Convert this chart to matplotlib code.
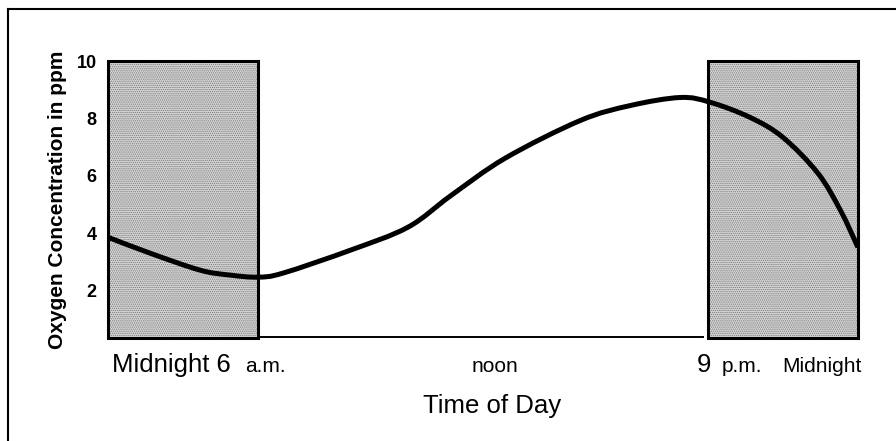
import matplotlib
matplotlib.use("Agg")
import matplotlib.pyplot as plt
from matplotlib.patches import Rectangle, PathPatch
from matplotlib.path import Path
import numpy as np

# hours along the drawn axis (0 = midnight at left edge, 30 = right edge)
hours = [0.0, 1.7, 3.7, 4.9, 6.0, 7.0, 9.7, 12.0, 13.7, 15.9,
         18.9, 20.9, 22.9, 24.1, 25.7, 27.0, 28.4, 29.3, 30.0]
oxygen = [3.86, 3.30, 2.71, 2.54, 2.47, 2.61, 3.41, 4.21, 5.30, 6.62,
          7.93, 8.45, 8.73, 8.56, 8.03, 7.34, 6.09, 4.80, 3.51]

# night (shaded) periods
night_spans = [(0, 6), (24, 30)]
y_ticks = [2, 4, 6, 8, 10]

plt.rcParams["hatch.color"] = "#7a7a7a"
plt.rcParams["hatch.linewidth"] = 0.6

fig = plt.figure(figsize=(8.96, 4.41), dpi=100)
ax = fig.add_axes([0.1205, 0.2336, 0.837, 0.628])
ax.set_xlim(0, 30)
ax.set_ylim(0.35, 10.0)

for x0, x1 in night_spans:
    ax.add_patch(Rectangle((x0, 0.35), x1 - x0, 9.65, facecolor="#d4d4d4",
                           edgecolor="#7a7a7a", linewidth=0, hatch="........",
                           zorder=1, clip_on=False))
    ax.add_patch(Rectangle((x0, 0.35), x1 - x0, 9.65, facecolor="none",
                           edgecolor="black", linewidth=2.2,
                           zorder=2, clip_on=False))

# baseline between the boxes
ax.plot([6.1, 23.8], [0.37, 0.37], color="black", linewidth=1.4, clip_on=False)

# smooth curve through the read points (Catmull-Rom as cubic Bezier segments)
pts = np.column_stack([hours, oxygen])
verts = [pts[0]]
codes = [Path.MOVETO]
for i in range(len(pts) - 1):
    p0 = pts[max(i - 1, 0)]
    p1 = pts[i]
    p2 = pts[i + 1]
    p3 = pts[min(i + 2, len(pts) - 1)]
    verts += [p1 + (p2 - p0) / 6, p2 - (p3 - p1) / 6, p2]
    codes += [Path.CURVE4] * 3
ax.add_patch(PathPatch(Path(verts, codes), facecolor="none", edgecolor="black",
                       linewidth=3.6, capstyle="butt", zorder=3))

for s in ax.spines.values():
    s.set_visible(False)
ax.set_xticks([])
ax.set_yticks(y_ticks)
ax.set_yticklabels([str(t) for t in y_ticks], fontfamily="Liberation Sans",
                   fontweight="bold", fontsize=13)
ax.tick_params(axis="y", length=0, pad=8)
ax.set_ylabel("Oxygen Concentration in ppm", fontfamily="Liberation Sans",
              fontweight="bold", fontsize=15, labelpad=7)

# time labels below the axis
ty = -0.123
big = 18.5
small = 15
ax.text(0.006, ty, "Midnight 6", transform=ax.transAxes, fontfamily="Liberation Sans",
        fontsize=big, ha="left", va="baseline")
ax.text(0.183, ty, "a.m.", transform=ax.transAxes, fontfamily="Liberation Sans",
        fontsize=small, ha="left", va="baseline")
ax.text(0.516, ty, "noon", transform=ax.transAxes, fontfamily="Liberation Sans",
        fontsize=small, ha="center", va="baseline")
ax.text(0.785, ty, "9", transform=ax.transAxes, fontfamily="Liberation Sans",
        fontsize=big, ha="left", va="baseline")
ax.text(0.819, ty, "p.m.", transform=ax.transAxes, fontfamily="Liberation Sans",
        fontsize=small, ha="left", va="baseline")
ax.text(1.005, ty, "Midnight", transform=ax.transAxes, fontfamily="Liberation Sans",
        fontsize=small, ha="right", va="baseline")
ax.text(0.512, -0.245, "Time of Day", transform=ax.transAxes, fontfamily="Liberation Sans",
        fontsize=big, ha="center", va="center")

# partial frame (top and left)
fig.add_artist(plt.Line2D([8 / 896, 1], [1 - 9 / 441, 1 - 9 / 441],
                          color="black", linewidth=1.5))
fig.add_artist(plt.Line2D([8 / 896, 8 / 896], [0, 1 - 9 / 441],
                          color="black", linewidth=1.5))

fig.savefig("out.png", dpi=100)
